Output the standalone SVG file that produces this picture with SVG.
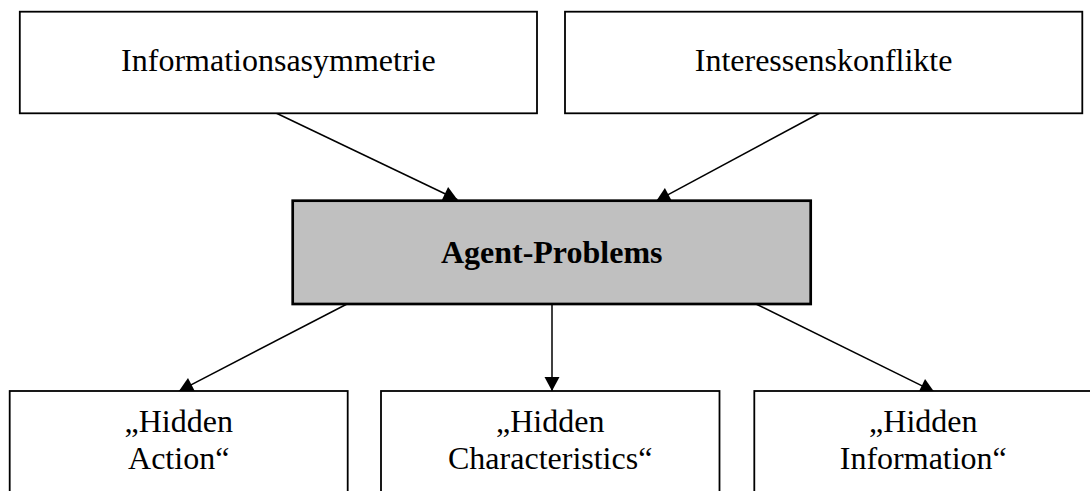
<svg xmlns="http://www.w3.org/2000/svg" width="1090" height="491" viewBox="0 0 1090 491">
  <style>
    .box { fill: #ffffff; stroke: #000000; stroke-width: 1.8; }
    .main { fill: #c0c0c0; stroke: #000000; stroke-width: 2.7; }
    .lbl { font-family: "Liberation Serif", "Times New Roman", serif; font-size: 32px; fill: #000000; text-anchor: middle; }
    .bold { font-weight: bold; }
    .conn { stroke: #000000; stroke-width: 1.5; fill: none; marker-end: url(#arrow); }
  </style>
  <defs>
    <marker id="arrow" markerUnits="userSpaceOnUse" markerWidth="16" markerHeight="18" refX="14" refY="0" viewBox="0 -9 16 18" orient="auto" overflow="visible">
      <path d="M0,-7.5 L14,0 L0,7.5 Z" fill="#000000"/>
    </marker>
  </defs>
  <rect width="1090" height="491" fill="#ffffff"/>
  <g id="connectors">
    <line class="conn" x1="276" y1="113" x2="457.5" y2="199.7"/>
    <line class="conn" x1="820" y1="113" x2="656.1" y2="201.2"/>
    <line class="conn" x1="347" y1="304" x2="179" y2="391.1"/>
    <line class="conn" x1="552" y1="304" x2="552" y2="391"/>
    <line class="conn" x1="756" y1="304" x2="934.3" y2="391.9"/>
  </g>
  <g id="informationsasymmetrie">
    <rect class="box" x="19.8" y="11.7" width="517.2" height="101.6"/>
    <text class="lbl" x="278.4" y="71">Informationsasymmetrie</text>
  </g>
  <g id="interessenskonflikte">
    <rect class="box" x="565" y="11.7" width="517.3" height="101.6"/>
    <text class="lbl" x="823.6" y="71">Interessenskonflikte</text>
  </g>
  <g id="agent-problems">
    <rect class="main" x="292.7" y="200.7" width="518" height="103.3"/>
    <text class="lbl bold" x="551.7" y="263">Agent-Problems</text>
  </g>
  <g id="hidden-action">
    <rect class="box" x="9.7" y="391" width="338" height="130"/>
    <text class="lbl" x="178.7" y="432">„Hidden</text>
    <text class="lbl" x="178.7" y="469">Action“</text>
  </g>
  <g id="hidden-characteristics">
    <rect class="box" x="381" y="391" width="338.5" height="130"/>
    <text class="lbl" x="550.2" y="432">„Hidden</text>
    <text class="lbl" x="550.2" y="469">Characteristics“</text>
  </g>
  <g id="hidden-information">
    <rect class="box" x="754.3" y="391" width="338" height="130"/>
    <text class="lbl" x="923.3" y="432">„Hidden</text>
    <text class="lbl" x="923.3" y="469">Information“</text>
  </g>
</svg>
